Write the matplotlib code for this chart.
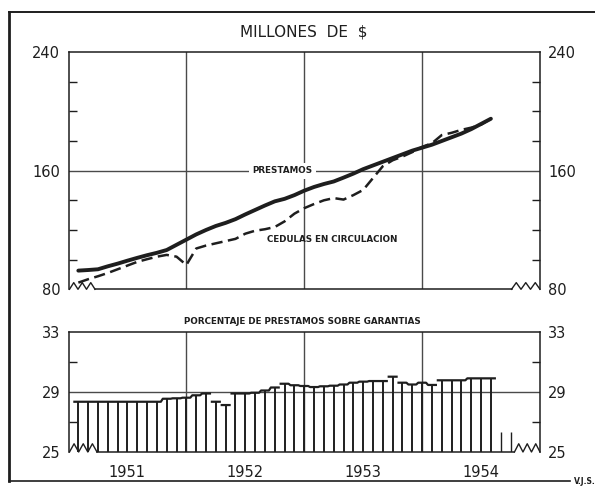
import numpy as np
import matplotlib
matplotlib.use("Agg")
import matplotlib.pyplot as plt
from matplotlib.lines import Line2D

# ---------------- data ----------------
# months counted from January 1951 (value at end of each month)
months = list(range(1, 44))
prestamos = [92.6, 93.0, 93.5, 95.5, 97.3, 99.3, 101.2, 103.0, 104.6, 106.5,
             110.0, 113.5, 117.0, 120.0, 122.7, 124.8, 127.3, 130.5, 133.5, 136.5,
             139.3, 141.0, 143.5, 146.5, 149.0, 151.0, 152.7, 155.3, 158.0, 161.0,
             163.5, 166.0, 168.5, 171.0, 173.5, 175.5, 177.5, 180.0, 182.5, 185.0,
             188.0, 191.5, 195.0]
cedulas = [84.5, 86.8, 88.8, 91.0, 93.5, 96.0, 98.5, 100.3, 102.0, 103.2,
           102.0, 96.4, 107.5, 109.5, 111.0, 112.5, 114.0, 117.5, 119.5, 120.5,
           122.0, 125.8, 131.0, 134.7, 137.5, 140.0, 141.5, 140.5, 143.5, 147.0,
           155.0, 163.0, 167.0, 169.5, 172.5, 176.0, 178.5, 184.0, 185.5, 187.5,
           189.0, 191.0, 195.0]
porcentaje = [28.35, 28.35, 28.35, 28.35, 28.35, 28.35, 28.35, 28.35, 28.35, 28.55,
              28.58, 28.62, 28.78, 28.90, 28.35, 28.13, 28.90, 28.90, 28.95, 29.10,
              29.30, 29.55, 29.45, 29.40, 29.33, 29.38, 29.42, 29.50, 29.62, 29.69,
              29.73, 29.73, 30.02, 29.62, 29.50, 29.62, 29.47, 29.78, 29.78, 29.78,
              29.91, 29.91, 29.91]
short_months = [44, 45]
short_vals = [26.35, 26.35]

year_labels = ["1951", "1952", "1953", "1954"]
year_pos = [6, 18, 30, 42]
year_grid = [12, 24, 36]

ink = "#1e1e1e"
grid_c = "#4a4a4a"
plt.rcParams['font.family'] = ['DejaVu Sans']

W, H = 595, 486
fig = plt.figure(figsize=(W / 100, H / 100), dpi=100)
fig.patch.set_facecolor("white")

def fx(px):
    return px / W

def fy(py):
    return (H - py) / H

ax1 = fig.add_axes([fx(68.5), fy(289.3), 471.5 / W, 237.3 / H])
ax2 = fig.add_axes([fx(68.5), fy(452), 471.5 / W, 120 / H])

for ax, (lo, hi) in ((ax1, (80, 240)), (ax2, (25, 33))):
    ax.set_xlim(0, 48)
    ax.set_ylim(lo, hi)
    ax.set_facecolor("white")
    for s in ("left", "right", "top"):
        ax.spines[s].set_color(ink)
        ax.spines[s].set_linewidth(1.1)
    ax.spines["bottom"].set_visible(False)
    for g in year_grid:
        ax.axvline(g, color=grid_c, lw=1.0, zorder=1)

# -------- top panel --------
ax1.axhline(160, color=grid_c, lw=1.0, zorder=1)
ax1.plot(months, prestamos, color=ink, lw=2.8, solid_capstyle="round", zorder=3)
ax1.plot(months, cedulas, color=ink, lw=1.8, dashes=(4.5, 2.2), zorder=3)
ax1.set_yticks([80, 160, 240])
ax1.set_yticks([100, 120, 140, 180, 200, 220], minor=True)
ax1.tick_params(axis="y", which="major", length=0, labelsize=10.5, pad=6,
                labelcolor=ink, right=True, labelright=True)
ax1.tick_params(axis="y", which="minor", length=6, width=1.0, direction="in",
                color=ink, right=True)
ax1.set_xticks([])

ax1.text(21.8, 160, "PRESTAMOS", fontsize=6.3, fontweight="bold", color=ink,
         ha="center", va="center", zorder=4,
         bbox=dict(facecolor="white", edgecolor="none", pad=2.5))
ax1.text(26.8, 113.5, "CEDULAS EN CIRCULACION", fontsize=6.3, fontweight="bold",
         color=ink, ha="center", va="center", zorder=4)

# bottom line with breaks
ax1.plot([2.7, 45.1], [80, 80], color=ink, lw=1.1, clip_on=False, zorder=2)

def zigzag(ax, x0, x1, ylo, yhi, n):
    xs = np.linspace(x0, x1, 2 * n + 1)
    ys = [ylo if k % 2 == 0 else yhi for k in range(len(xs))]
    ax.plot(xs, ys, color=ink, lw=1.0, clip_on=False, zorder=2)

zigzag(ax1, 0.1, 2.7, 80, 84.5, 3)
zigzag(ax1, 45.1, 48, 80, 84.5, 3)

# -------- bottom panel --------
ax2.axhline(29, color=grid_c, lw=1.0, zorder=1)
ax2.vlines(months, 25, porcentaje, color=ink, lw=1.4, zorder=3)
ax2.vlines(short_months, 25, short_vals, color=ink, lw=1.0, zorder=3)
# caps along the tops
tops_x, tops_y = [], []
for i, (m, v) in enumerate(zip(months, porcentaje)):
    if i > 0 and abs(v - porcentaje[i - 1]) > 0.21:
        tops_x.append(np.nan); tops_y.append(np.nan)
    tops_x.extend([m - 0.4, m + 0.4]); tops_y.extend([v, v])
ax2.plot(tops_x, tops_y, color=ink, lw=1.6, zorder=3)

ax2.plot([2.9, 45.4], [25, 25], color=ink, lw=1.1, clip_on=False, zorder=2)
zigzag(ax2, 0.1, 2.9, 25, 25.55, 3)
zigzag(ax2, 45.4, 48, 25, 25.55, 3)

ax2.set_yticks([25, 29, 33])
ax2.set_yticks([27, 31], minor=True)
ax2.tick_params(axis="y", which="major", length=0, labelsize=10.5, pad=6,
                labelcolor=ink, right=True, labelright=True)
ax2.tick_params(axis="y", which="minor", length=6, width=1.0, direction="in",
                color=ink, right=True)
ax2.set_xticks(year_pos)
ax2.set_xticklabels(year_labels)
ax2.tick_params(axis="x", length=0, labelsize=10.5, pad=9, labelcolor=ink)

# -------- titles / frame --------
fig.text(fx(304), fy(32), "MILLONES  DE  $", fontsize=11, color=ink,
         ha="center", va="center")
fig.text(fx(302), fy(322), "PORCENTAJE DE PRESTAMOS SOBRE GARANTIAS", fontsize=6.3,
         fontweight="bold", color=ink, ha="center", va="center")
fig.text(fx(585), fy(481), "V.J.S.", fontsize=5.5, fontweight="bold", color=ink,
         ha="center", va="center")

fig.add_artist(Line2D([fx(9), fx(9)], [fy(12), fy(481)], color=ink, lw=2.0))
fig.add_artist(Line2D([fx(9), fx(595)], [fy(12), fy(12)], color=ink, lw=1.4))
fig.add_artist(Line2D([fx(9), fx(570)], [fy(481), fy(481)], color=ink, lw=1.2))

fig.savefig("out.png", dpi=100, facecolor="white")
